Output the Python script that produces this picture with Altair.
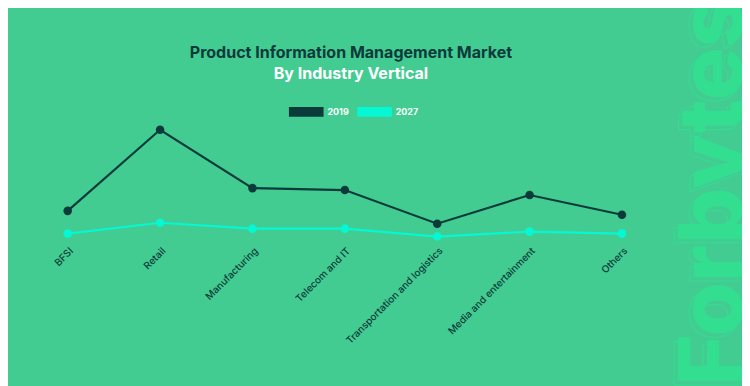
import altair as alt
import pandas as pd

categories = ["BFSI", "Retail", "Manufacturing", "Telecom and IT",
              "Transportation and logistics", "Media and entertainment", "Others"]
years = ["2019", "2027"]
v2019 = [29, 111, 52, 50, 16, 45, 25]
v2027 = [6, 17, 11, 11, 3, 8, 6]
title_line1 = ["Product Information Management Market"]
title_line2 = ["By Industry Vertical"]
watermark = ["Forbytes"]

rows = []
for yr, vals in zip(years, [v2019, v2027]):
    for c, v in zip(categories, vals):
        rows.append({"category": c, "year": yr, "value": v})
df = pd.DataFrame(rows)

BG = "#43CC91"
DARK = "#0B3A3B"
CYAN = "#05F7D3"
WM = "#31E292"
FONT = "Inter"
BAR = "M-1,-0.1667H1V0.1667H-1Z"

x = alt.X("category:N", sort=categories,
          scale=alt.Scale(type="point", padding=0.507, round=False),
          axis=alt.Axis(title=None, labelAngle=-45, domain=False, ticks=False, grid=False,
                        labelColor=DARK, labelFont=FONT, labelFontSize=10, labelFontWeight=500,
                        labelPadding=6, labelLimit=300))
y = alt.Y("value:Q", scale=alt.Scale(domain=[0, 120], nice=False, zero=True), axis=None)
color = alt.Color("year:N", scale=alt.Scale(domain=years, range=[DARK, CYAN]),
                  legend=alt.Legend(orient="none", legendX=271, legendY=-27, direction="horizontal",
                                    title=None, symbolType=BAR, symbolSize=900,
                                    symbolStrokeWidth=5, labelColor="white", labelFont=FONT,
                                    labelFontWeight="bold", labelFontSize=9, labelOffset=4,
                                    columnPadding=0))

lines = alt.Chart(df).mark_line(strokeWidth=2.2, point=alt.OverlayMarkDef(filled=True, size=75, opacity=1)).encode(
    x=x, y=y, color=color)

wm_df = pd.DataFrame({"t": watermark})
wm_fill = alt.Chart(wm_df).mark_text(font=FONT, fontWeight=800, fontSize=89, angle=270,
                                     align="left", baseline="alphabetic", color=WM,
                                     opacity=0.85).encode(
    text="t:N", x=alt.value(729), y=alt.value(268))
wm_stroke = alt.Chart(wm_df).mark_text(font=FONT, fontWeight=800, fontSize=89, angle=270,
                                       align="left", baseline="alphabetic", fill=None,
                                       stroke=WM, strokeWidth=1, opacity=0.8).encode(
    text="t:N", x=alt.value(725), y=alt.value(272))

t1 = alt.Chart(pd.DataFrame({"t": title_line1})).mark_text(
    font=FONT, fontWeight="bold", fontSize=16.2, color=DARK, align="center", baseline="middle").encode(
    text="t:N", x=alt.value(333.7), y=alt.value(-69))
t2 = alt.Chart(pd.DataFrame({"t": title_line2})).mark_text(
    font=FONT, fontWeight="bold", fontSize=16.2, color="white", align="center", baseline="middle").encode(
    text="t:N", x=alt.value(333.7), y=alt.value(-47))

chart = alt.layer(wm_fill, wm_stroke, t1, t2, lines).properties(
    width=655, height=120,
    padding={"left": 13, "top": 112, "right": 74, "bottom": 146},
    autosize=alt.AutoSizeParams(type="none"),
    background=BG,
).configure_view(stroke=None)

chart.save("out.html", embed_options={"renderer": "svg", "actions": False})
